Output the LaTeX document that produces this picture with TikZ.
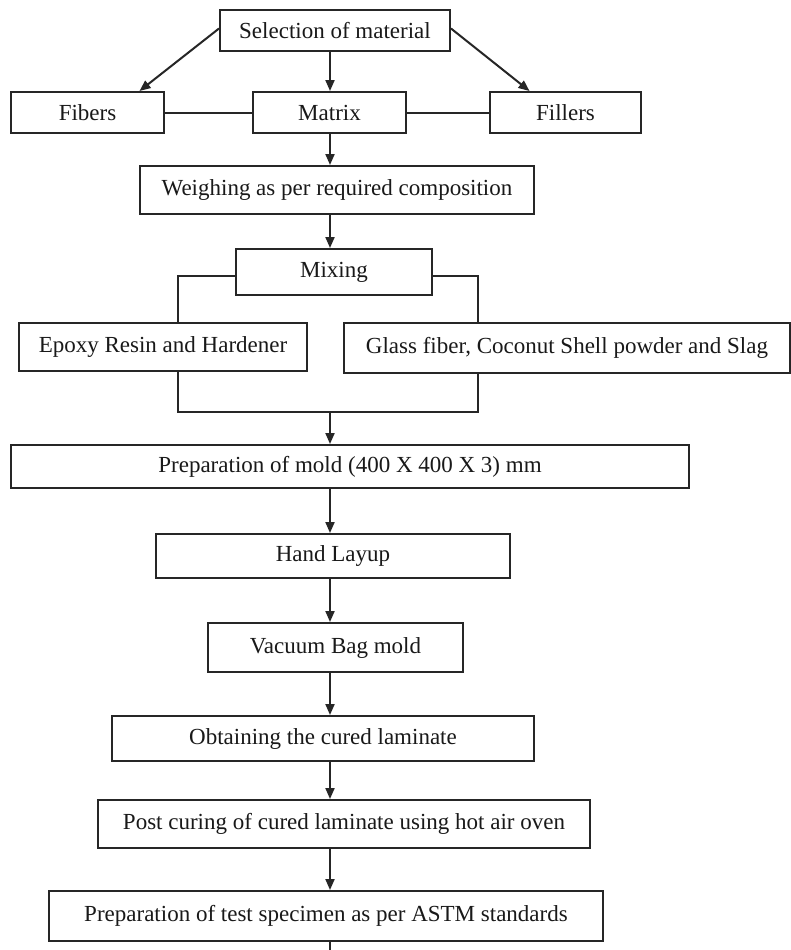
\documentclass[tikz,border=0pt]{standalone}
\usepackage{fontspec}
\setmainfont{Liberation Serif}
\usetikzlibrary{arrows.meta}
\begin{document}
\begin{tikzpicture}[x=1pt,y=-1pt,
  box/.style={draw=black!85, line width=2pt, inner sep=0pt, align=center,
    font=\fontsize{23}{26}\selectfont, text=black!90},
  arr/.style={draw=black!85, line width=2pt, -{Triangle[length=11pt,width=9pt]}},
  ln/.style={draw=black!85, line width=2pt}]
\useasboundingbox (0,0) rectangle (790,950);
\fill[white] (0,0) rectangle (790,950);
\coordinate (spine) at (330,0);
\node[box, minimum width=230, minimum height=41] (sel) at (335,30.5) {Selection of material};
\node[box, minimum width=153, minimum height=41] (fib) at (87.5,112.5) {Fibers};
\node[box, minimum width=153, minimum height=41] (mat) at (329.5,112.5) {Matrix};
\node[box, minimum width=151, minimum height=41] (fil) at (565.5,112.5) {Fillers};
\node[box, minimum width=394, minimum height=48] (wei) at (337,190) {Weighing as per required composition};
\node[box, minimum width=196, minimum height=46] (mix) at (334,272) {Mixing};
\node[box, minimum width=288, minimum height=48] (epo) at (163,347) {Epoxy Resin and Hardener};
\node[box, minimum width=446, minimum height=50] (gla) at (567,348) {Glass fiber, Coconut Shell powder and Slag};
\node[box, minimum width=678, minimum height=43] (mold) at (350,466.5) {Preparation of mold (400 X 400 X 3) mm};
\node[box, minimum width=354, minimum height=44] (hand) at (333,556) {Hand Layup};
\node[box, minimum width=255, minimum height=49] (vac) at (335.5,647.5) {Vacuum Bag mold};
\node[box, minimum width=422, minimum height=45] (obt) at (323,738.5) {Obtaining the cured laminate};
\node[box, minimum width=492, minimum height=48] (post) at (344,824) {Post curing of cured laminate using hot air oven};
\node[box, minimum width=554, minimum height=50] (astm) at (326,916) {Preparation of test specimen as per ASTM standards};
\coordinate (lb) at (178,412);
\coordinate (rb) at (478,412);
\coordinate (end) at (330,950);
% top arrows
\draw[arr] ([yshift=2]sel.west) -- ([xshift=52]fib.north);
\draw[arr] ([yshift=2]sel.east) -- ([xshift=-36]fil.north);
\draw[arr] (sel.south -| spine) -- (mat.north -| spine);
\draw[ln] (fib.east) -- (mat.west);
\draw[ln] (mat.east) -- (fil.west);
\draw[arr] (mat.south -| spine) -- (wei.north -| spine);
\draw[arr] (wei.south -| spine) -- (mix.north -| spine);
% mixing brackets
\draw[ln] ([yshift=-4]mix.west) -| (epo.north -| lb);
\draw[ln] ([yshift=-4]mix.east) -| (gla.north -| rb);
\draw[ln] (epo.south -| lb) -- (lb) -- (rb) -- (gla.south -| rb);
\draw[arr] (lb -| spine) -- (mold.north -| spine);
\draw[arr] (mold.south -| spine) -- (hand.north -| spine);
\draw[arr] (hand.south -| spine) -- (vac.north -| spine);
\draw[arr] (vac.south -| spine) -- (obt.north -| spine);
\draw[arr] (obt.south -| spine) -- (post.north -| spine);
\draw[arr] (post.south -| spine) -- (astm.north -| spine);
\draw[ln] (astm.south -| spine) -- (end);
\end{tikzpicture}
\end{document}
